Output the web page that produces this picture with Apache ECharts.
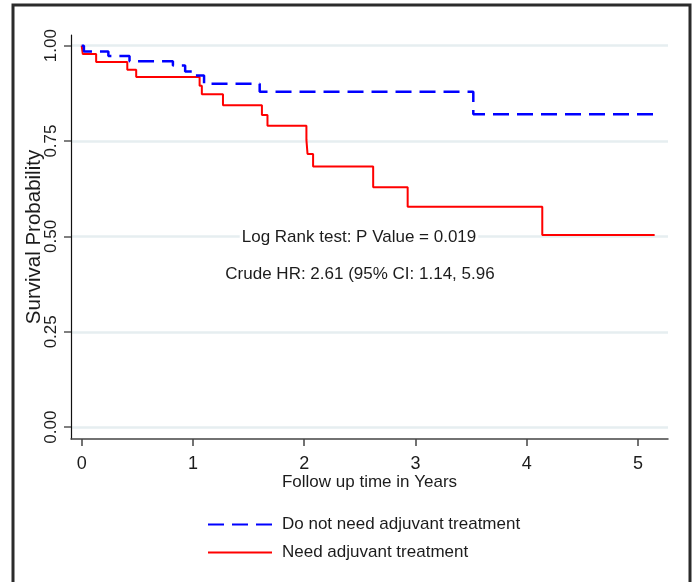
<!DOCTYPE html>
<html>
<head>
<meta charset="utf-8">
<script src="https://cdn.jsdelivr.net/npm/echarts@6/dist/echarts.min.js"></script>
<style>
html,body{margin:0;padding:0;background:#fff;}
#chart{width:696px;height:582px;}
</style>
</head>
<body>
<div id="chart"></div>
<script>
// Kaplan-Meier step data (time in years, survival probability after event)
const noAdjTimes = [0, 0.02, 0.24, 0.43, 0.82, 0.93, 1.00, 1.10, 1.60, 3.52, 5.17];
const noAdjSurv  = [1.000, 0.985, 0.973, 0.959, 0.948, 0.932, 0.922, 0.900, 0.879, 0.820, 0.820];
const adjTimes = [0, 0.01, 0.13, 0.41, 0.49, 1.06, 1.08, 1.27, 1.62, 1.67, 2.02, 2.03, 2.08, 2.62, 2.93, 4.14, 5.15];
const adjSurv  = [1.000, 0.978, 0.957, 0.937, 0.918, 0.895, 0.873, 0.844, 0.818, 0.790, 0.753, 0.716, 0.683, 0.629, 0.578, 0.504, 0.504];
const seriesNames = ['Do not need adjuvant treatment', 'Need adjuvant treatment'];
const xTicks = [0, 1, 2, 3, 4, 5];
const yTicks = [0, 0.25, 0.5, 0.75, 1];
const yTickLabels = ['0.00', '0.25', '0.50', '0.75', '1.00'];
const annotations = ['Log Rank test: P Value = 0.019', 'Crude HR: 2.61 (95% CI: 1.14, 5.96'];

const FONT = "'Liberation Sans', Arial, sans-serif";
const TXT = '#1c1c1c';

const chart = echarts.init(document.getElementById('chart'), null, {renderer: 'canvas'});
const pair = (t, s) => t.map((v, i) => [v, s[i]]);

chart.setOption({
  backgroundColor: '#ffffff',
  animation: false,
  grid: {left: 71, right: 28, top: 35, bottom: 143, containLabel: false},
  xAxis: {
    type: 'value', min: -0.096, max: 5.27,
    name: 'Follow up time in Years', nameLocation: 'middle', nameGap: 35, nameMoveOverlap: false,
    nameTextStyle: {fontFamily: FONT, fontSize: 17, color: TXT},
    axisLine: {show: true, onZero: false, lineStyle: {color: '#444', width: 1.5}},
    axisTick: {show: true, inside: false, length: 7, customValues: xTicks, lineStyle: {color: '#444', width: 1.5}},
    axisLabel: {show: true, margin: 16, customValues: xTicks, fontFamily: FONT, fontSize: 18, color: TXT,
      formatter: v => String(v)},
    splitLine: {show: false}
  },
  yAxis: {
    type: 'value', min: -0.031, max: 1.028,
    name: 'Survival Probability', nameLocation: 'middle', nameGap: 26, nameMoveOverlap: false,
    nameTextStyle: {fontFamily: FONT, fontSize: 20.5, color: TXT},
    axisLine: {show: true, onZero: false, lineStyle: {color: '#111', width: 1.2}},
    axisTick: {show: true, inside: false, length: 7, customValues: yTicks, lineStyle: {color: '#555', width: 1.5}},
    axisLabel: {show: true, rotate: 90, margin: 11, customValues: yTicks, fontFamily: FONT, fontSize: 17, color: TXT,
      formatter: v => yTickLabels[yTicks.findIndex(t => Math.abs(t - v) < 1e-6)] ?? ''},
    splitLine: {show: true, lineStyle: {color: '#e6eef0', width: 2.5}}
  },
  legend: {
    orient: 'vertical', left: 207, top: 516, padding: 0,
    itemWidth: 64, itemHeight: 14, itemGap: 11,
    itemStyle: {opacity: 0, borderWidth: 0},
    textStyle: {fontFamily: FONT, fontSize: 17, color: TXT, padding: [0, 0, 0, 5]},
    data: seriesNames
  },
  series: [
    {
      name: seriesNames[0], type: 'line', step: 'end', symbol: 'none', z: 3,
      data: pair(noAdjTimes, noAdjSurv),
      lineStyle: {color: '#0000ff', width: 2.5, type: [16, 8]},
      itemStyle: {color: '#0000ff'}
    },
    {
      name: seriesNames[1], type: 'line', step: 'end', symbol: 'none', z: 2,
      data: pair(adjTimes, adjSurv),
      lineStyle: {color: '#ff0000', width: 2, type: 'solid'},
      itemStyle: {color: '#ff0000'}
    }
  ],
  graphic: [
    {type: 'rect', silent: true, shape: {x: 13, y: 5, width: 677, height: 640},
     style: {fill: 'none', stroke: '#2b2b2b', lineWidth: 3}},
    {type: 'text', x: 359, y: 237, silent: true, z: 10,
     style: {text: annotations[0], fontFamily: FONT, fontSize: 17, fill: TXT, textAlign: 'center', textVerticalAlign: 'middle',
       backgroundColor: '#ffffff', padding: [0, 2]}},
    {type: 'text', x: 360, y: 274, silent: true, z: 10,
     style: {text: annotations[1], fontFamily: FONT, fontSize: 17, fill: TXT, textAlign: 'center', textVerticalAlign: 'middle'}}
  ]
});
</script>
</body>
</html>
